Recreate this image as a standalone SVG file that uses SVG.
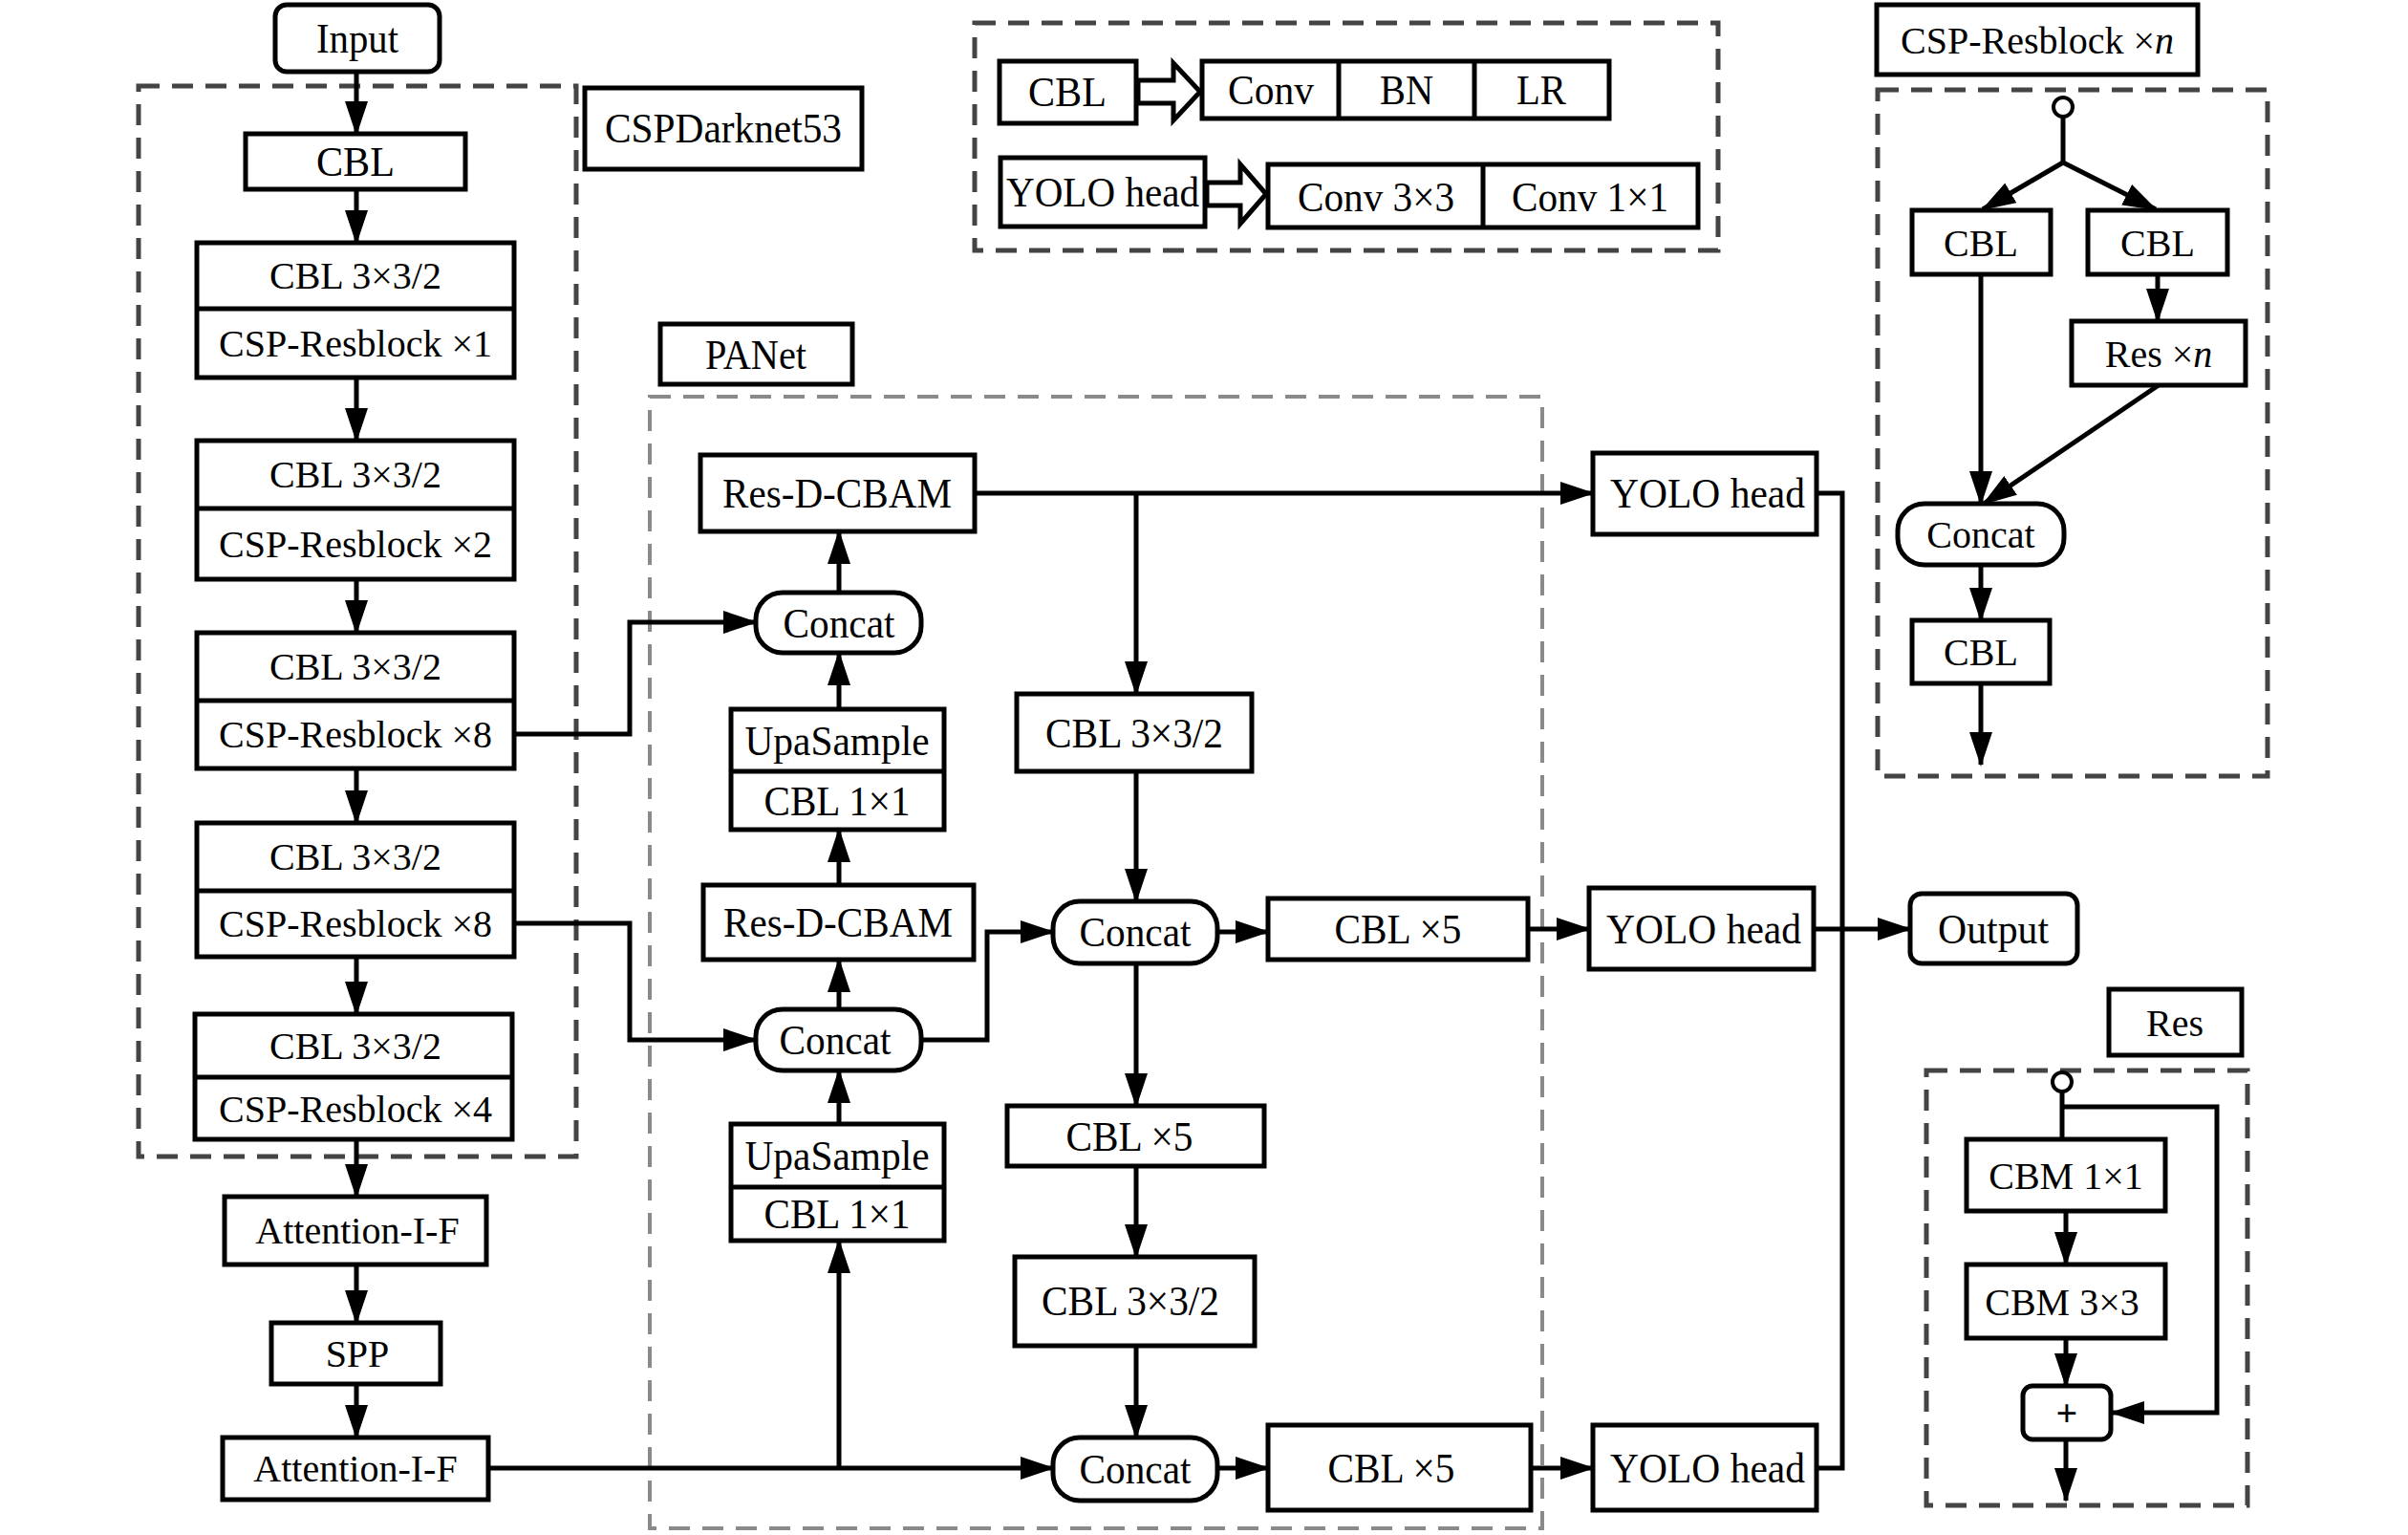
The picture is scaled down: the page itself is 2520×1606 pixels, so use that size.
<svg xmlns="http://www.w3.org/2000/svg" width="2520" height="1606" viewBox="0 0 2520 1606">
<style>
.b{fill:#fff;stroke:#000;stroke-width:5}
.s{fill:none;stroke:#000;stroke-width:5}
.d1{fill:none;stroke:#444;stroke-width:5;stroke-dasharray:22 13}
.d2{fill:none;stroke:#8a8a8a;stroke-width:4;stroke-dasharray:22 13}
.t{font-family:"Liberation Serif","Times New Roman",serif;font-size:40px;text-anchor:middle;fill:#000}
.t2{font-family:"Liberation Serif","Times New Roman",serif;font-size:44px;text-anchor:middle;fill:#000}
.c{fill:none;stroke:#000;stroke-width:5}
.a{fill:none;stroke:#000;stroke-width:5;marker-end:url(#ah)}
.ho{fill:#fff;stroke:#000;stroke-width:5;stroke-linejoin:miter}
</style>
<defs>
<marker id="ah" viewBox="0 0 36 24" refX="34" refY="12" markerWidth="36" markerHeight="24" markerUnits="userSpaceOnUse" orient="auto">
<path d="M0,0 L36,12 L0,24 z" fill="#000"/>
</marker>
</defs>
<rect width="2520" height="1606" fill="#fff"/>

<!-- dashed frames -->
<g id="frames">
<rect class="d1" x="145" y="90" width="458" height="1120"/>
<rect class="d1" x="1020" y="24" width="778" height="238"/>
<rect class="d2" x="680" y="415" width="934" height="1184"/>
<rect class="d1" x="1965" y="94" width="408" height="718"/>
<rect class="d1" x="2016" y="1120" width="336" height="455"/>
</g>

<!-- connectors -->
<g id="connectors">
<line class="a" x1="373" y1="76" x2="373" y2="140"/>
<line class="a" x1="373" y1="198" x2="373" y2="254"/>
<line class="a" x1="373" y1="395" x2="373" y2="461"/>
<line class="a" x1="373" y1="606" x2="373" y2="662"/>
<line class="a" x1="373" y1="804" x2="373" y2="861"/>
<line class="a" x1="373" y1="1001" x2="373" y2="1061"/>
<line class="a" x1="373" y1="1192" x2="373" y2="1252"/>
<line class="a" x1="373" y1="1323" x2="373" y2="1384"/>
<line class="a" x1="373" y1="1448" x2="373" y2="1504"/>
<polyline class="a" points="538,768 659,768 659,651 791,651"/>
<polyline class="a" points="538,966 659,966 659,1088 791,1088"/>
<line class="a" x1="511" y1="1536" x2="1102" y2="1536"/>
<line class="a" x1="878" y1="1536" x2="878" y2="1298"/>
<line class="a" x1="878" y1="1176" x2="878" y2="1120"/>
<line class="a" x1="878" y1="1056" x2="878" y2="1004"/>
<line class="a" x1="878" y1="926" x2="878" y2="868"/>
<line class="a" x1="878" y1="742" x2="878" y2="683"/>
<line class="a" x1="878" y1="620" x2="878" y2="556"/>
<line class="a" x1="1020" y1="516" x2="1667" y2="516"/>
<line class="a" x1="1189" y1="516" x2="1189" y2="726"/>
<line class="a" x1="1189" y1="807" x2="1189" y2="943"/>
<polyline class="a" points="964,1088 1033,1088 1033,975 1102,975"/>
<line class="a" x1="1274" y1="975" x2="1327" y2="975"/>
<line class="a" x1="1599" y1="972" x2="1663" y2="972"/>
<line class="a" x1="1189" y1="1008" x2="1189" y2="1157"/>
<line class="a" x1="1189" y1="1220" x2="1189" y2="1315"/>
<line class="a" x1="1189" y1="1408" x2="1189" y2="1504"/>
<line class="a" x1="1274" y1="1536" x2="1327" y2="1536"/>
<line class="a" x1="1602" y1="1536" x2="1667" y2="1536"/>
<polyline class="c" points="1901,516 1928,516 1928,1536 1901,1536"/>
<line class="a" x1="1898" y1="972" x2="1999" y2="972"/>
<!-- CSP-Resblock detail -->
<line class="c" x1="2159" y1="122" x2="2159" y2="170"/>
<line class="a" x1="2159" y1="170" x2="2075" y2="219"/>
<line class="a" x1="2159" y1="170" x2="2256" y2="219"/>
<line class="a" x1="2258" y1="287" x2="2258" y2="336"/>
<line class="a" x1="2073" y1="287" x2="2073" y2="527"/>
<line class="a" x1="2259" y1="403" x2="2076" y2="527"/>
<line class="a" x1="2073" y1="591" x2="2073" y2="649"/>
<line class="a" x1="2073" y1="715" x2="2073" y2="800"/>
<!-- Res detail -->
<line class="c" x1="2158" y1="1142" x2="2158" y2="1192"/>
<polyline class="a" points="2158,1158 2320,1158 2320,1478 2210,1478"/>
<line class="a" x1="2162" y1="1267" x2="2162" y2="1323"/>
<line class="a" x1="2162" y1="1400" x2="2162" y2="1450"/>
<line class="a" x1="2162" y1="1506" x2="2162" y2="1570"/>
</g>

<!-- backbone nodes -->
<g id="input"><rect class="b" x="288" y="5" width="172" height="70" rx="12"/><text class="t2" x="374" y="55" textLength="86" lengthAdjust="spacingAndGlyphs">Input</text></g>
<g id="lbl-darknet"><rect class="b" x="612" y="92" width="290" height="85"/><text class="t2" x="757" y="149" textLength="248" lengthAdjust="spacingAndGlyphs">CSPDarknet53</text></g>
<g id="cbl0"><rect class="b" x="257" y="140" width="230" height="58"/><text class="t2" x="372" y="184" textLength="82" lengthAdjust="spacingAndGlyphs">CBL</text></g>
<g id="blk1"><rect class="b" x="206" y="254" width="332" height="141"/><line class="s" x1="206" y1="323" x2="538" y2="323"/><text class="t" x="372" y="302">CBL 3×3/2</text><text class="t" x="372" y="373">CSP-Resblock ×1</text></g>
<g id="blk2"><rect class="b" x="206" y="461" width="332" height="145"/><line class="s" x1="206" y1="532" x2="538" y2="532"/><text class="t" x="372" y="510">CBL 3×3/2</text><text class="t" x="372" y="583">CSP-Resblock ×2</text></g>
<g id="blk3"><rect class="b" x="206" y="662" width="332" height="142"/><line class="s" x1="206" y1="733" x2="538" y2="733"/><text class="t" x="372" y="711">CBL 3×3/2</text><text class="t" x="372" y="782">CSP-Resblock ×8</text></g>
<g id="blk4"><rect class="b" x="206" y="861" width="332" height="140"/><line class="s" x1="206" y1="932" x2="538" y2="932"/><text class="t" x="372" y="910">CBL 3×3/2</text><text class="t" x="372" y="980">CSP-Resblock ×8</text></g>
<g id="blk5"><rect class="b" x="204" y="1061" width="332" height="131"/><line class="s" x1="204" y1="1127" x2="536" y2="1127"/><text class="t" x="372" y="1108">CBL 3×3/2</text><text class="t" x="372" y="1174">CSP-Resblock ×4</text></g>
<g id="att1"><rect class="b" x="235" y="1252" width="274" height="71"/><text class="t" x="374" y="1301">Attention-I-F</text></g>
<g id="spp"><rect class="b" x="284" y="1384" width="177" height="64"/><text class="t" x="374" y="1430">SPP</text></g>
<g id="att2"><rect class="b" x="233" y="1504" width="278" height="65"/><text class="t" x="372" y="1550">Attention-I-F</text></g>

<!-- legend -->
<g id="leg-cbl"><rect class="b" x="1046" y="64" width="143" height="65"/><text class="t2" x="1117" y="111" textLength="82" lengthAdjust="spacingAndGlyphs">CBL</text></g>
<g id="leg-arrow1"><path class="ho" d="M1191,84 L1228,84 L1228,66 L1256,96 L1228,126 L1228,108 L1191,108 z"/></g>
<g id="leg-cbl-parts"><rect class="b" x="1258" y="64" width="426" height="60"/><line class="s" x1="1401" y1="64" x2="1401" y2="124"/><line class="s" x1="1543" y1="64" x2="1543" y2="124"/><text class="t2" x="1330" y="109" textLength="90" lengthAdjust="spacingAndGlyphs">Conv</text><text class="t2" x="1472" y="109" textLength="56" lengthAdjust="spacingAndGlyphs">BN</text><text class="t2" x="1613" y="109" textLength="52" lengthAdjust="spacingAndGlyphs">LR</text></g>
<g id="leg-yolo"><rect class="b" x="1047" y="165" width="214" height="72"/><text class="t2" x="1154" y="216" textLength="202" lengthAdjust="spacingAndGlyphs">YOLO head</text></g>
<g id="leg-arrow2"><path class="ho" d="M1263,191 L1298,191 L1298,172 L1325,203 L1298,234 L1298,215 L1263,215 z"/></g>
<g id="leg-yolo-parts"><rect class="b" x="1327" y="172" width="450" height="66"/><line class="s" x1="1552" y1="172" x2="1552" y2="238"/><text class="t2" x="1440" y="221" textLength="164" lengthAdjust="spacingAndGlyphs">Conv 3×3</text><text class="t2" x="1664" y="221" textLength="164" lengthAdjust="spacingAndGlyphs">Conv 1×1</text></g>

<!-- PANet -->
<g id="lbl-panet"><rect class="b" x="691" y="339" width="201" height="63"/><text class="t2" x="791" y="386" textLength="106" lengthAdjust="spacingAndGlyphs">PANet</text></g>
<g id="rdc1"><rect class="b" x="733" y="476" width="287" height="80"/><text class="t2" x="876" y="531" textLength="240" lengthAdjust="spacingAndGlyphs">Res-D-CBAM</text></g>
<g id="concat1"><rect class="b" x="791" y="620" width="173" height="63" rx="28"/><text class="t2" x="878" y="667" textLength="117" lengthAdjust="spacingAndGlyphs">Concat</text></g>
<g id="up1"><rect class="b" x="765" y="742" width="223" height="126"/><line class="s" x1="765" y1="807" x2="988" y2="807"/><text class="t2" x="876" y="790" textLength="193" lengthAdjust="spacingAndGlyphs">UpaSample</text><text class="t2" x="876" y="853" textLength="153" lengthAdjust="spacingAndGlyphs">CBL 1×1</text></g>
<g id="rdc2"><rect class="b" x="736" y="926" width="283" height="78"/><text class="t2" x="877" y="980" textLength="240" lengthAdjust="spacingAndGlyphs">Res-D-CBAM</text></g>
<g id="concat2"><rect class="b" x="791" y="1056" width="173" height="64" rx="28"/><text class="t2" x="874" y="1103" textLength="117" lengthAdjust="spacingAndGlyphs">Concat</text></g>
<g id="up2"><rect class="b" x="765" y="1176" width="223" height="122"/><line class="s" x1="765" y1="1242" x2="988" y2="1242"/><text class="t2" x="876" y="1224" textLength="193" lengthAdjust="spacingAndGlyphs">UpaSample</text><text class="t2" x="876" y="1285" textLength="153" lengthAdjust="spacingAndGlyphs">CBL 1×1</text></g>
<g id="cbl32a"><rect class="b" x="1064" y="726" width="246" height="81"/><text class="t2" x="1187" y="782" textLength="186" lengthAdjust="spacingAndGlyphs">CBL 3×3/2</text></g>
<g id="concat3"><rect class="b" x="1102" y="943" width="172" height="65" rx="28"/><text class="t2" x="1188" y="990" textLength="117" lengthAdjust="spacingAndGlyphs">Concat</text></g>
<g id="cbl5a"><rect class="b" x="1327" y="940" width="272" height="64"/><text class="t2" x="1463" y="987" textLength="133" lengthAdjust="spacingAndGlyphs">CBL ×5</text></g>
<g id="cbl5b"><rect class="b" x="1054" y="1157" width="269" height="63"/><text class="t2" x="1182" y="1204" textLength="133" lengthAdjust="spacingAndGlyphs">CBL ×5</text></g>
<g id="cbl32b"><rect class="b" x="1062" y="1315" width="251" height="93"/><text class="t2" x="1183" y="1376" textLength="186" lengthAdjust="spacingAndGlyphs">CBL 3×3/2</text></g>
<g id="concat4"><rect class="b" x="1102" y="1504" width="172" height="66" rx="28"/><text class="t2" x="1188" y="1552" textLength="117" lengthAdjust="spacingAndGlyphs">Concat</text></g>
<g id="cbl5c"><rect class="b" x="1327" y="1491" width="275" height="89"/><text class="t2" x="1456" y="1551" textLength="133" lengthAdjust="spacingAndGlyphs">CBL ×5</text></g>

<!-- heads -->
<g id="yolo1"><rect class="b" x="1667" y="474" width="234" height="85"/><text class="t2" x="1787" y="531" textLength="204" lengthAdjust="spacingAndGlyphs">YOLO head</text></g>
<g id="yolo2"><rect class="b" x="1663" y="929" width="235" height="85"/><text class="t2" x="1783" y="987" textLength="204" lengthAdjust="spacingAndGlyphs">YOLO head</text></g>
<g id="yolo3"><rect class="b" x="1667" y="1491" width="234" height="89"/><text class="t2" x="1787" y="1551" textLength="204" lengthAdjust="spacingAndGlyphs">YOLO head</text></g>
<g id="output"><rect class="b" x="1999" y="935" width="175" height="73" rx="12"/><text class="t2" x="2086" y="987" textLength="116" lengthAdjust="spacingAndGlyphs">Output</text></g>

<!-- CSP-Resblock detail -->
<g id="lbl-csp"><rect class="b" x="1964" y="5" width="336" height="73"/><text class="t" x="2132" y="56">CSP-Resblock ×<tspan font-style="italic">n</tspan></text></g>
<g id="csp-in"><circle cx="2159" cy="112" r="10" fill="#fff" stroke="#000" stroke-width="4"/></g>
<g id="csp-cbl1"><rect class="b" x="2001" y="220" width="145" height="67"/><text class="t" x="2073" y="268">CBL</text></g>
<g id="csp-cbl2"><rect class="b" x="2185" y="220" width="146" height="67"/><text class="t" x="2258" y="268">CBL</text></g>
<g id="csp-res"><rect class="b" x="2168" y="336" width="182" height="67"/><text class="t" x="2259" y="384">Res ×<tspan font-style="italic">n</tspan></text></g>
<g id="csp-concat"><rect class="b" x="1986" y="527" width="174" height="64" rx="28"/><text class="t" x="2073" y="573">Concat</text></g>
<g id="csp-cbl3"><rect class="b" x="2001" y="649" width="144" height="66"/><text class="t" x="2073" y="696">CBL</text></g>

<!-- Res detail -->
<g id="lbl-res"><rect class="b" x="2207" y="1035" width="139" height="69"/><text class="t" x="2276" y="1084">Res</text></g>
<g id="res-in"><circle cx="2158" cy="1132" r="10" fill="#fff" stroke="#000" stroke-width="4"/></g>
<g id="cbm11"><rect class="b" x="2058" y="1192" width="208" height="75"/><text class="t" x="2162" y="1244">CBM 1×1</text></g>
<g id="cbm33"><rect class="b" x="2058" y="1323" width="208" height="77"/><text class="t" x="2158" y="1376">CBM 3×3</text></g>
<g id="plus"><rect class="b" x="2117" y="1450" width="92" height="56" rx="10"/><text class="t" x="2163" y="1492" font-weight="bold">+</text></g>
</svg>
